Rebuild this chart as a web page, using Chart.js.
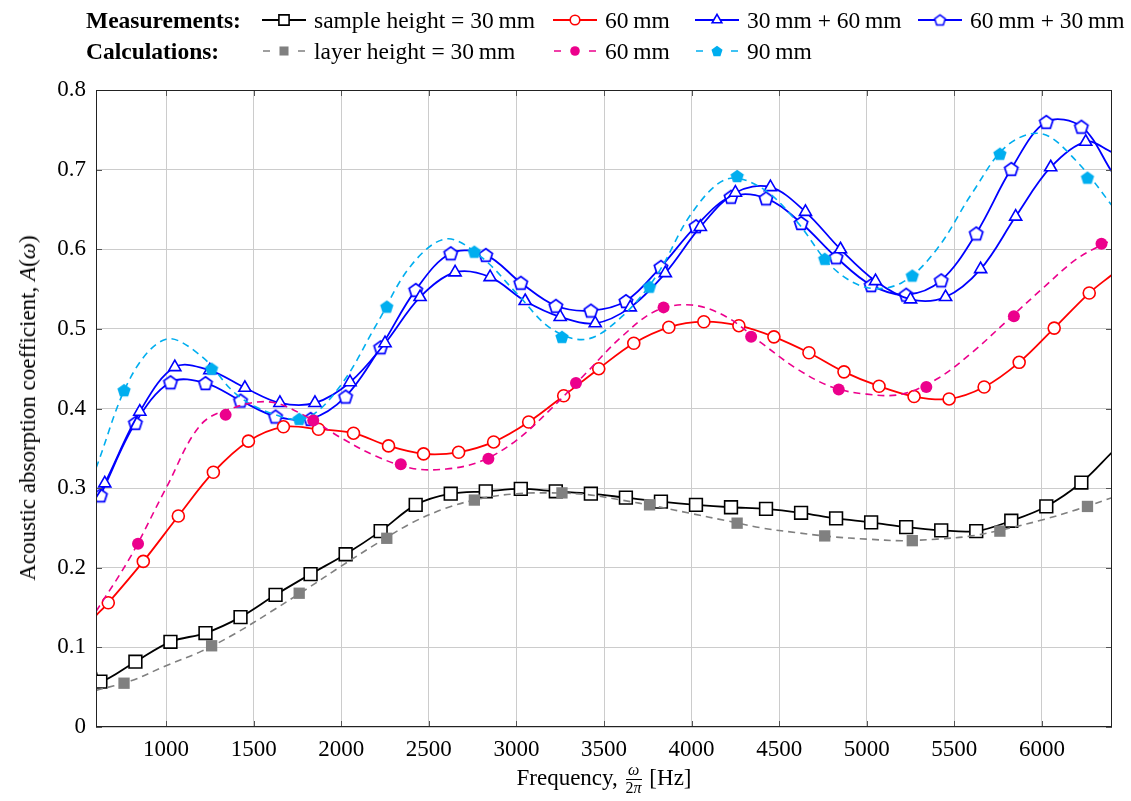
<!DOCTYPE html>
<html>
<head>
<meta charset="utf-8">
<title>Acoustic absorption</title>
<script src="https://cdn.jsdelivr.net/npm/chart.js@4/dist/chart.umd.min.js"></script>
<style>
    body { margin: 0; background: #fff; }
    #wrap {
        position: relative; width: 1131px; height: 801px;
        font-family: 'Liberation Serif', 'Times New Roman', serif; color: #000;
    }
    #chartCanvas { position: absolute; left: 0; top: 0; }
    .legend-head { position: absolute; font-weight: bold; font-size: 23.5px; line-height: 26px; }
    .legend-text { position: absolute; font-size: 23.5px; line-height: 26px; white-space: nowrap; }
    .legend-icon { position: absolute; }
    #yTitle {
        position: absolute; left: 28px; top: 408px; font-size: 23px; white-space: nowrap;
        transform: translate(-50%, -50%) rotate(-90deg);
    }
    #xTitle {
        position: absolute; left: 96px; width: 1016px; top: 762px; font-size: 23px;
        text-align: center; white-space: nowrap;
    }
    .frac { display: inline-block; vertical-align: middle; text-align: center; font-size: 16px; line-height: 1.05; margin: 0 2px; }
    .frac .num { display: block; border-bottom: 1px solid #000; padding: 0 1px; }
    .frac .den { display: block; }
</style>
</head>
<body>
<div id="wrap">
    <canvas id="chartCanvas" width="1131" height="801"></canvas>
    <div id="legend"></div>
    <div id="yTitle">Acoustic absorption coefficient, <i>A</i>(<i>ω</i>)</div>
    <div id="xTitle">Frequency, <span class="frac"><span class="num"><i>ω</i></span><span class="den">2<i>π</i></span></span> [Hz]</div>
</div>
<script>
const xMin = 600;
const xMax = 6400;
const xTicks = [1000, 1500, 2000, 2500, 3000, 3500, 4000, 4500, 5000, 5500, 6000];
const yTicks = [0, 0.1, 0.2, 0.3, 0.4, 0.5, 0.6, 0.7, 0.8];
const yTickLabels = ['0', '0.1', '0.2', '0.3', '0.4', '0.5', '0.6', '0.7', '0.8'];

// measurements (first and last entries are the curve ends, no marker there)
const freqSample30 = [600, 625, 825, 1025, 1225, 1425, 1625, 1825, 2025, 2225, 2425, 2625, 2825, 3025, 3225, 3425,
    3625, 3825, 4025, 4225, 4425, 4625, 4825, 5025, 5225, 5425, 5625, 5825, 6025, 6225, 6400];
const absSample30 = [0.07, 0.057, 0.082, 0.107, 0.118, 0.138, 0.166, 0.192, 0.217, 0.246, 0.279, 0.293, 0.296, 0.299,
    0.296, 0.293, 0.288, 0.283, 0.279, 0.276, 0.274, 0.269, 0.262, 0.257, 0.251, 0.247, 0.246, 0.259, 0.277, 0.307, 0.345];

const freqSample60 = [600, 670, 870, 1070, 1270, 1470, 1670, 1870, 2070, 2270, 2470, 2670, 2870, 3070, 3270, 3470,
    3670, 3870, 4070, 4270, 4470, 4670, 4870, 5070, 5270, 5470, 5670, 5870, 6070, 6270, 6400];
const absSample60 = [0.14, 0.156, 0.208, 0.265, 0.32, 0.359, 0.377, 0.374, 0.369, 0.353, 0.343, 0.345, 0.358, 0.383,
    0.416, 0.45, 0.482, 0.502, 0.509, 0.504, 0.49, 0.47, 0.446, 0.428, 0.415, 0.412, 0.427, 0.458, 0.501, 0.545, 0.568];

const freqSample30p60 = [600, 650, 850, 1050, 1250, 1450, 1650, 1850, 2050, 2250, 2450, 2650, 2850, 3050, 3250, 3450,
    3650, 3850, 4050, 4250, 4450, 4650, 4850, 5050, 5250, 5450, 5650, 5850, 6050, 6250, 6400];
const absSample30p60 = [0.288, 0.306, 0.396, 0.452, 0.448, 0.426, 0.407, 0.407, 0.433, 0.482, 0.54, 0.571, 0.565, 0.535,
    0.515, 0.507, 0.527, 0.57, 0.628, 0.671, 0.678, 0.647, 0.6, 0.56, 0.537, 0.54, 0.575, 0.641, 0.703, 0.735, 0.722];

const freqSample60p30 = [600, 625, 825, 1025, 1225, 1425, 1625, 1825, 2025, 2225, 2425, 2625, 2825, 3025, 3225, 3425,
    3625, 3825, 4025, 4225, 4425, 4625, 4825, 5025, 5225, 5425, 5625, 5825, 6025, 6225, 6400];
const absSample60p30 = [0.283, 0.291, 0.382, 0.433, 0.432, 0.41, 0.39, 0.387, 0.415, 0.477, 0.549, 0.595, 0.593, 0.558,
    0.529, 0.523, 0.535, 0.578, 0.629, 0.666, 0.664, 0.633, 0.59, 0.555, 0.543, 0.561, 0.62, 0.701, 0.76, 0.754, 0.697];

// calculations: curves sampled every 200 Hz, markers every 500 Hz
const freqCalc = [600, 800, 1000, 1200, 1400, 1600, 1800, 2000, 2200, 2400, 2600, 2800, 3000, 3200, 3400,
    3600, 3800, 4000, 4200, 4400, 4600, 4800, 5000, 5200, 5400, 5600, 5800, 6000, 6200, 6400];
const absLayer30 = [0.046, 0.058, 0.077, 0.095, 0.118, 0.145, 0.173, 0.202, 0.23, 0.256, 0.275, 0.287, 0.293, 0.294, 0.292,
    0.285, 0.277, 0.268, 0.259, 0.25, 0.244, 0.239, 0.236, 0.234, 0.236, 0.24, 0.249, 0.26, 0.273, 0.288];
const absLayer60 = [0.145, 0.215, 0.3, 0.38, 0.402, 0.408, 0.39, 0.363, 0.34, 0.325, 0.324, 0.334, 0.36, 0.4, 0.445,
    0.49, 0.523, 0.53, 0.515, 0.482, 0.45, 0.427, 0.418, 0.418, 0.437, 0.47, 0.51, 0.55, 0.588, 0.612];
const absLayer90 = [0.325, 0.44, 0.487, 0.466, 0.418, 0.394, 0.388, 0.43, 0.505, 0.58, 0.613, 0.59, 0.545, 0.5, 0.487,
    0.515, 0.567, 0.645, 0.688, 0.677, 0.635, 0.578, 0.552, 0.558, 0.6, 0.67, 0.73, 0.745, 0.71, 0.655];

const markFreq30 = [760, 1260, 1760, 2260, 2760, 3260, 3760, 4260, 4760, 5260, 5760, 6260];
const markAbs30 = [0.055, 0.102, 0.168, 0.237, 0.285, 0.294, 0.279, 0.256, 0.24, 0.234, 0.246, 0.277];
const markFreq60 = [840, 1340, 1840, 2340, 2840, 3340, 3840, 4340, 4840, 5340, 5840, 6340];
const markAbs60 = [0.23, 0.392, 0.385, 0.33, 0.337, 0.432, 0.527, 0.49, 0.424, 0.427, 0.516, 0.607];
const markFreq90 = [760, 1260, 1760, 2260, 2760, 3260, 3760, 4260, 4760, 5260, 5760, 6260];
const markAbs90 = [0.423, 0.45, 0.387, 0.528, 0.597, 0.49, 0.553, 0.692, 0.588, 0.567, 0.72, 0.69];

const BLUE = '#0000ff';
const RED = '#ff0000';
const GRAY = '#808080';
const MAGENTA = '#ec008c';
const CYAN = '#00aeef';

function toPoints(freqs, values) {
    return freqs.map((f, i) => ({ x: f, y: values[i] }));
}

function makePentagon(radius, stroke, fill, lineWidth) {
    const size = Math.ceil(2 * radius + 2 * lineWidth + 2);
    const c = document.createElement('canvas');
    c.width = size;
    c.height = size;
    const ctx = c.getContext('2d');
    const cx = size / 2, cy = size / 2 + radius * 0.1;
    ctx.beginPath();
    for (let i = 0; i < 5; i++) {
        const a = -Math.PI / 2 + i * 2 * Math.PI / 5;
        const px = cx + radius * Math.cos(a), py = cy + radius * Math.sin(a);
        if (i === 0) ctx.moveTo(px, py); else ctx.lineTo(px, py);
    }
    ctx.closePath();
    ctx.fillStyle = fill;
    ctx.fill();
    if (stroke) {
        ctx.strokeStyle = stroke;
        ctx.lineWidth = lineWidth;
        ctx.stroke();
    }
    return c;
}

const pentagonOpen = makePentagon(7, BLUE, '#fff', 1.7);
const pentagonFilled = makePentagon(7, null, CYAN, 0);
// smaller copies for the legend
const legendPentagons = new Map([
    [pentagonOpen, makePentagon(5.6, BLUE, '#fff', 1.5)],
    [pentagonFilled, makePentagon(5.8, null, CYAN, 0)]
]);

function measured(label, freqs, values, color, style, radius) {
    return {
        label: label,
        data: toPoints(freqs, values),
        borderColor: color,
        backgroundColor: '#fff',
        borderWidth: 1.8,
        tension: 0.35,
        pointStyle: style,
        pointRadius: freqs.map(f => (f === xMin || f === xMax) ? 0 : radius),
        pointBorderColor: color,
        pointBackgroundColor: '#fff',
        pointBorderWidth: 1.6,
        order: 2
    };
}

function calcLine(label, values, color) {
    return {
        label: label,
        data: toPoints(freqCalc, values),
        borderColor: color,
        borderWidth: 1.6,
        borderDash: [7, 5],
        tension: 0.35,
        pointRadius: 0,
        order: 1
    };
}

function calcMarks(label, freqs, values, color, style, radius) {
    return {
        label: label,
        data: toPoints(freqs, values),
        showLine: false,
        pointStyle: style,
        pointRadius: radius,
        pointBorderWidth: 0,
        pointBackgroundColor: color,
        pointBorderColor: color,
        order: 0
    };
}

const datasets = [
    measured('sample height = 30 mm', freqSample30, absSample30, '#000', 'rect', 9),
    measured('60 mm', freqSample60, absSample60, RED, 'circle', 6),
    measured('30 mm + 60 mm', freqSample30p60, absSample30p60, BLUE, 'triangle', 7),
    measured('60 mm + 30 mm', freqSample60p30, absSample60p30, BLUE, pentagonOpen, 7),
    calcLine('layer height = 30 mm', absLayer30, GRAY),
    calcLine('60 mm', absLayer60, MAGENTA),
    calcLine('90 mm', absLayer90, CYAN),
    calcMarks('layer height = 30 mm', markFreq30, markAbs30, GRAY, 'rect', 8),
    calcMarks('60 mm', markFreq60, markAbs60, MAGENTA, 'circle', 6),
    calcMarks('90 mm', markFreq90, markAbs90, CYAN, pentagonFilled, 7)
];

// inward tick marks on all four sides plus the closed frame
const frameTicks = {
    id: 'frameTicks',
    afterDatasetsDraw(chart) {
        const { ctx, chartArea: a, scales } = chart;
        ctx.save();
        ctx.strokeStyle = '#555';
        ctx.lineWidth = 1;
        ctx.beginPath();
        xTicks.forEach(v => {
            const px = Math.round(scales.x.getPixelForValue(v)) + 0.5;
            ctx.moveTo(px, a.bottom); ctx.lineTo(px, a.bottom - 6);
            ctx.moveTo(px, a.top); ctx.lineTo(px, a.top + 6);
        });
        yTicks.forEach(v => {
            const py = Math.round(scales.y.getPixelForValue(v)) + 0.5;
            ctx.moveTo(a.left, py); ctx.lineTo(a.left + 6, py);
            ctx.moveTo(a.right, py); ctx.lineTo(a.right - 6, py);
        });
        ctx.stroke();
        ctx.strokeStyle = '#222';
        ctx.strokeRect(Math.round(a.left) + 0.5, Math.round(a.top) + 0.5, Math.round(a.width) - 1, Math.round(a.height) - 1);
        ctx.restore();
    }
};

const tickFont = { family: "'Liberation Serif', 'Times New Roman', serif", size: 23 };

new Chart(document.getElementById('chartCanvas').getContext('2d'), {
    type: 'line',
    data: { datasets: datasets },
    options: {
        responsive: false,
        animation: false,
        layout: { padding: { top: 90, right: 19, left: 0, bottom: 0 } },
        plugins: { legend: { display: false }, tooltip: { enabled: false } },
        scales: {
            x: {
                type: 'linear',
                min: xMin,
                max: xMax,
                afterBuildTicks: s => { s.ticks = xTicks.map(v => ({ value: v })); },
                afterFit: s => { s.height = 74; },
                grid: { color: '#cccccc', lineWidth: 1, drawTicks: false },
                border: { display: false },
                ticks: { font: tickFont, color: '#000', padding: 9, maxRotation: 0, autoSkip: false, callback: v => String(v) }
            },
            y: {
                type: 'linear',
                min: 0,
                max: 0.8,
                afterBuildTicks: s => { s.ticks = yTicks.map(v => ({ value: v })); },
                afterFit: s => { s.width = 96; },
                grid: { color: '#cccccc', lineWidth: 1, drawTicks: false },
                border: { display: false },
                ticks: { font: tickFont, color: '#000', padding: 10, callback: (v, i) => yTickLabels[i] }
            }
        }
    },
    plugins: [frameTicks]
});

// two-row legend, measurements on top, calculations below
const legendRows = [
    { head: 'Measurements:', top: 7, items: [[0, 262], [1, 553], [2, 695], [3, 918]] },
    { head: 'Calculations:', top: 38, items: [[4, 262], [5, 553], [6, 695]] }
];
const markerSets = { 4: 7, 5: 8, 6: 9 };

function drawLegendIcon(canvas, dsIndex) {
    const ctx = canvas.getContext('2d');
    const line = datasets[dsIndex];
    const markDs = markerSets[dsIndex] !== undefined ? datasets[markerSets[dsIndex]] : line;
    const cx = canvas.width / 2, cy = canvas.height / 2;
    ctx.strokeStyle = line.borderColor;
    ctx.lineWidth = line.borderWidth;
    ctx.beginPath();
    if (line.borderDash) {
        ctx.moveTo(1, cy); ctx.lineTo(8, cy);
        ctx.moveTo(canvas.width - 8, cy); ctx.lineTo(canvas.width - 1, cy);
    } else {
        ctx.moveTo(0, cy); ctx.lineTo(canvas.width, cy);
    }
    ctx.stroke();
    const style = markDs.pointStyle;
    if (legendPentagons.has(style)) {
        const img = legendPentagons.get(style);
        ctx.drawImage(img, cx - img.width / 2, cy - img.height / 2);
        return;
    }
    const r = Array.isArray(markDs.pointRadius) ? markDs.pointRadius[1] : markDs.pointRadius;
    ctx.fillStyle = markDs.pointBackgroundColor;
    ctx.strokeStyle = markDs.pointBorderColor;
    ctx.lineWidth = markDs.pointBorderWidth;
    Chart.helpers.drawPoint(ctx, {
        pointStyle: style, radius: r * 0.8, rotation: 0, borderWidth: markDs.pointBorderWidth
    }, cx, cy);
}

const legendEl = document.getElementById('legend');
legendRows.forEach(row => {
    const head = document.createElement('div');
    head.className = 'legend-head';
    head.style.left = '86px';
    head.style.top = row.top + 'px';
    head.textContent = row.head;
    legendEl.appendChild(head);
    row.items.forEach(([dsIndex, left]) => {
        const icon = document.createElement('canvas');
        icon.className = 'legend-icon';
        icon.width = 44;
        icon.height = 20;
        icon.style.left = left + 'px';
        icon.style.top = (row.top + 3) + 'px';
        legendEl.appendChild(icon);
        drawLegendIcon(icon, dsIndex);
        const text = document.createElement('div');
        text.className = 'legend-text';
        text.style.left = (left + 52) + 'px';
        text.style.top = row.top + 'px';
        text.textContent = datasets[dsIndex].label.replace(/(\d) mm/g, '$1\u2009mm');
        legendEl.appendChild(text);
    });
});
</script>
</body>
</html>
